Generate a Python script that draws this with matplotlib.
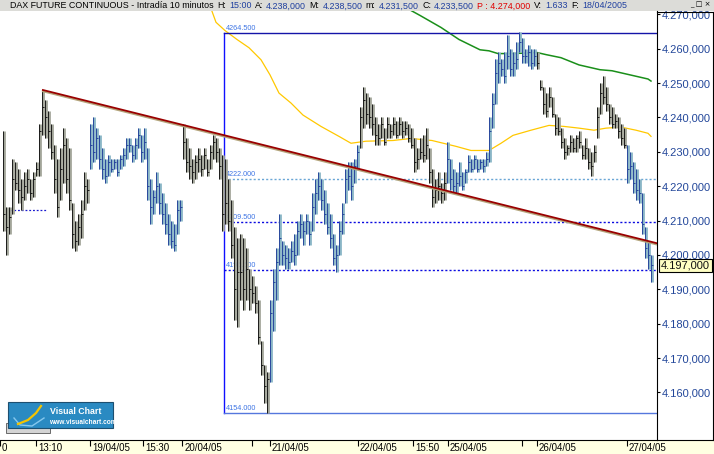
import numpy as np
import matplotlib
matplotlib.use('Agg')
import matplotlib.pyplot as plt
import matplotlib.transforms as mtransforms
from matplotlib.collections import LineCollection
from matplotlib.lines import Line2D
from matplotlib.patches import Rectangle

plt.rcParams['font.family'] = ['Liberation Sans', 'DejaVu Sans']

W, H = 714, 454

# 10 minute bars, one list per session (high / low / close)
hi_1804 = [4236, 4214, 4214, 4228, 4227, 4225, 4222, 4224, 4225, 4222, 4224, 4227, 4238, 4248, 4245,
           4242, 4238, 4232, 4228, 4231, 4237, 4234, 4231, 4215, 4210, 4212, 4216, 4224, 4222]
lo_1804 = [4207, 4200, 4206, 4212, 4219, 4215, 4213, 4216, 4218, 4216, 4217, 4223, 4223, 4235, 4234,
           4231, 4228, 4218, 4211, 4216, 4221, 4218, 4213, 4202, 4201, 4203, 4205, 4213, 4215]
cl_1804 = [4212, 4208, 4211, 4222, 4221, 4219, 4217, 4220, 4222, 4218, 4222, 4225, 4236, 4243, 4240,
           4236, 4230, 4222, 4214, 4225, 4232, 4222, 4216, 4206, 4204, 4208, 4212, 4220, 4219]

hi_1904 = [4238, 4240, 4237, 4235, 4231, 4228, 4229, 4228, 4228, 4228, 4229, 4231, 4234, 4234, 4232, 4234,
           4237, 4235, 4237, 4231, 4222, 4219, 4224, 4221, 4218, 4215, 4212, 4210, 4209, 4216, 4216]
lo_1904 = [4225, 4227, 4228, 4225, 4222, 4221, 4223, 4224, 4225, 4223, 4225, 4226, 4228, 4230, 4227, 4228,
           4231, 4227, 4228, 4216, 4209, 4212, 4215, 4212, 4209, 4206, 4203, 4202, 4201, 4206, 4210]
cl_1904 = [4232, 4230, 4234, 4228, 4225, 4223, 4227, 4225, 4227, 4224, 4228, 4229, 4232, 4232, 4229, 4232,
           4235, 4230, 4233, 4220, 4214, 4217, 4220, 4215, 4212, 4209, 4206, 4204, 4203, 4213, 4214]

hi_2004 = [4238, 4234, 4231, 4228, 4229, 4231, 4229, 4231, 4228, 4232, 4235, 4234, 4231, 4229, 4228,
           4222, 4216, 4208, 4205, 4206, 4205, 4202, 4196, 4194, 4191, 4187, 4175, 4168, 4166]
lo_2004 = [4228, 4224, 4222, 4221, 4222, 4224, 4223, 4225, 4223, 4225, 4228, 4227, 4222, 4207, 4209,
           4207, 4199, 4181, 4179, 4187, 4184, 4187, 4184, 4186, 4183, 4174, 4165, 4157, 4154]
cl_2004 = [4233, 4227, 4226, 4224, 4227, 4228, 4225, 4229, 4224, 4230, 4233, 4230, 4226, 4212, 4215,
           4210, 4203, 4190, 4195, 4195, 4190, 4196, 4190, 4189, 4186, 4176, 4168, 4162, 4164]

hi_2104 = [4187, 4196, 4202, 4212, 4204, 4203, 4202, 4204, 4206, 4210, 4212, 4210, 4212, 4210, 4218,
           4222, 4224, 4222, 4219, 4215, 4212, 4206, 4203, 4210, 4215, 4225, 4227, 4227, 4228, 4232]
lo_2104 = [4163, 4178, 4187, 4197, 4197, 4196, 4196, 4198, 4197, 4200, 4205, 4203, 4206, 4203, 4207,
           4212, 4216, 4213, 4209, 4206, 4202, 4197, 4195, 4200, 4206, 4215, 4219, 4216, 4221, 4225]
cl_2104 = [4183, 4192, 4198, 4205, 4200, 4199, 4198, 4201, 4200, 4207, 4209, 4207, 4210, 4206, 4214,
           4218, 4220, 4216, 4212, 4208, 4205, 4199, 4200, 4207, 4212, 4222, 4223, 4220, 4226, 4230]

hi_2204 = [4243, 4249, 4247, 4246, 4244, 4240, 4238, 4240, 4237, 4240, 4238, 4240, 4239, 4240, 4239,
           4239, 4238, 4237, 4234, 4231, 4234, 4235, 4237, 4231, 4225, 4222, 4224, 4221, 4224]
lo_2204 = [4231, 4237, 4238, 4237, 4235, 4232, 4232, 4234, 4232, 4234, 4234, 4235, 4234, 4235, 4234,
           4235, 4233, 4231, 4224, 4225, 4228, 4227, 4228, 4221, 4214, 4215, 4216, 4215, 4216]
cl_2204 = [4240, 4245, 4241, 4240, 4238, 4235, 4234, 4238, 4233, 4238, 4236, 4238, 4235, 4238, 4236,
           4237, 4234, 4232, 4227, 4228, 4230, 4229, 4232, 4224, 4217, 4219, 4220, 4218, 4221]

hi_2504 = [4233, 4228, 4225, 4224, 4227, 4224, 4225, 4229, 4228, 4229, 4228, 4228, 4228, 4230, 4240,
           4247, 4257, 4259, 4257, 4259, 4264, 4260, 4259, 4262, 4265, 4263, 4260, 4261, 4260, 4260]
lo_2504 = [4221, 4219, 4218, 4218, 4220, 4219, 4221, 4224, 4224, 4225, 4224, 4225, 4224, 4226, 4227,
           4237, 4244, 4250, 4252, 4250, 4254, 4252, 4252, 4254, 4259, 4256, 4256, 4255, 4254, 4255]
cl_2504 = [4228, 4222, 4220, 4221, 4223, 4220, 4224, 4227, 4225, 4228, 4225, 4227, 4226, 4228, 4236,
           4244, 4253, 4256, 4254, 4252, 4258, 4254, 4256, 4257, 4262, 4258, 4258, 4259, 4256, 4258]

hi_2604 = [4259, 4251, 4249, 4247, 4249, 4246, 4241, 4240, 4237, 4234, 4232, 4235, 4234, 4235, 4236,
           4232, 4234, 4231, 4230, 4232, 4243, 4250, 4252, 4249, 4244, 4243, 4241, 4240, 4238, 4237]
lo_2604 = [4254, 4248, 4241, 4240, 4243, 4240, 4235, 4235, 4231, 4228, 4229, 4230, 4230, 4230, 4231,
           4228, 4228, 4225, 4223, 4227, 4234, 4241, 4244, 4242, 4238, 4237, 4237, 4234, 4232, 4231]
cl_2604 = [4256, 4249, 4244, 4242, 4246, 4241, 4237, 4236, 4233, 4230, 4231, 4233, 4231, 4234, 4233,
           4229, 4231, 4227, 4226, 4230, 4240, 4247, 4246, 4244, 4240, 4238, 4239, 4236, 4234, 4232]

hi_2704 = [4232, 4230, 4227, 4225, 4222, 4218, 4208, 4204, 4200]
lo_2704 = [4221, 4222, 4218, 4216, 4215, 4206, 4199, 4196, 4192]
cl_2704 = [4225, 4226, 4221, 4219, 4218, 4209, 4202, 4200, 4197]

sessions = [(hi_1804, lo_1804, cl_1804), (hi_1904, lo_1904, cl_1904), (hi_2004, lo_2004, cl_2004),
            (hi_2104, lo_2104, cl_2104), (hi_2204, lo_2204, cl_2204), (hi_2504, lo_2504, cl_2504),
            (hi_2604, lo_2604, cl_2604), (hi_2704, lo_2704, cl_2704)]

# moving averages (bar index, value)
ma_yellow_x = [69, 71, 74, 78, 82, 86, 89, 92, 96, 100, 106, 112, 116, 121, 130, 136, 143, 151, 156, 162,
               166, 170, 176, 182, 187, 192, 197, 201, 206, 211, 215, 216]
ma_yellow_y = [4272.5, 4267.7, 4265.3, 4262.7, 4260.3, 4256.8, 4252.4, 4247.1, 4244.2, 4240.7, 4237.4,
               4234.5, 4232.5, 4233.1, 4233.3, 4233.9, 4233.3, 4231.6, 4230.4, 4230.4, 4232.5, 4234.8,
               4236.3, 4237.7, 4237.4, 4236.9, 4236.3, 4236.9, 4237.2, 4236.3, 4235.4, 4234.5]
ma_green_x = [134, 139, 146, 152, 159, 162, 165, 170, 178, 181, 186, 192, 199, 203, 209, 215, 216]
ma_green_y = [4272.1, 4269.7, 4266.2, 4262.7, 4259.7, 4259.4, 4258.6, 4258.6, 4258.9, 4258.3, 4257.4,
              4255.3, 4253.9, 4253.6, 4252.4, 4251.2, 4250.6]

# drawing tools
trend_x = [13.3, 218.0]
trend_y = [4248.0, 4203.4]
fibo_start = 73.7
fibo_levels = [4264.5, 4222.0, 4209.5, 4195.5, 4154.0]
old_level = 4213.0
old_level_x = [2.3, 14.7]

xtick_pos = [-1, 11, 29, 46.7, 59.7, 83, 89, 118.3, 136.7, 148.3, 173, 178, 208]
xtick_lab = ['0', '13:10', '19/04/05', '15:30', '20/04/05', '', '21/04/05', '22/04/05', '15:50',
             '25/04/05', '', '26/04/05', '27/04/05']

title_parts = [('DAX FUTURE CONTINUOUS - Intradía 10 minutos', 'k'), ('H:', 'k'), ('15:00', 'b'),
               ('A:', 'k'), ('4.238,000', 'b'), ('M:', 'k'), ('4.238,500', 'b'), ('m:', 'k'),
               ('4.231,500', 'b'), ('C:', 'k'), ('4.233,500', 'b'), ('P : 4.274,000', 'r'),
               ('V:', 'k'), ('1.633', 'b'), ('F:', 'k'), ('18/04/2005', 'b')]


def es_num(v):
    s = f'{v:,.3f}'
    return s.replace(',', '#').replace('.', ',').replace('#', '.')


def fx(px):
    return px / W


def fy(py):
    return 1 - py / H


fig = plt.figure(figsize=(W / 100, H / 100), dpi=100)
fig.patches.append(Rectangle((0, fy(11)), 1, 1 - fy(11), transform=fig.transFigure,
                             facecolor='#dcdcd8', edgecolor='none', zorder=-2))
fig.patches.append(Rectangle((0, 0), 1, fy(440), transform=fig.transFigure,
                             facecolor='#ffffe2', edgecolor='none', zorder=-2))

ax = fig.add_axes([0, fy(440), fx(657), fy(11) - fy(440)])
ax.set_xlim(-1, 218)
ax.set_ylim(4146.14, 4270.99)

# bars
light_segs, dark_segs, light_cols, dark_cols = [], [], [], []
i = 0
for d, (hh, ll, cc) in enumerate(sessions):
    blue_day = d % 2 == 1
    for h, l, c in zip(hh, ll, cc):
        light_segs.append([(i + 0.35, l), (i + 0.35, h)])
        light_cols.append('#8ab6c6' if blue_day else '#a3a69a')
        dark_segs.append([(i, l), (i, h)])
        dark_segs.append([(i, c), (i + 0.5, c)])
        col = '#22409a' if blue_day else '#111111'
        dark_cols += [col, col]
        i += 1
last_close = sessions[-1][2][-1]

ax.add_collection(LineCollection(light_segs, colors=light_cols, linewidths=2.0, zorder=3))
ax.add_collection(LineCollection(dark_segs, colors=dark_cols, linewidths=0.65, zorder=4))

# moving averages
ax.plot(ma_yellow_x, ma_yellow_y, color='#ffc800', lw=0.9, zorder=2)
ax.plot(ma_green_x, ma_green_y, color='#1a8f1a', lw=1.1, zorder=2)

# trend line
shade = ax.transData + mtransforms.ScaledTranslation(0, -1.3 / 100, fig.dpi_scale_trans)
ax.plot(trend_x, trend_y, color='#b3a57c', lw=1.4, transform=shade, zorder=5)
ax.plot(trend_x, trend_y, color='#9a0000', lw=1.3, zorder=6)

# fibonacci style levels
ax.plot([fibo_start, fibo_start], [fibo_levels[-1], fibo_levels[0]], color='#1010ff', lw=1.0, zorder=2)
lvl_style = {4264.5: ('#1414a8', '-'), 4222.0: ('#6aa6d6', (0, (1.5, 1.5))),
             4209.5: ('#0a0ae0', (0, (1.5, 1.5))), 4195.5: ('#0a0ae0', (0, (1.5, 1.5))),
             4154.0: ('#5577dd', '-')}
up = ax.transData + mtransforms.ScaledTranslation(0, 1.0 / 100, fig.dpi_scale_trans)
for lv in fibo_levels:
    col, ls = lvl_style[lv]
    ax.plot([fibo_start, 218], [lv, lv], color=col, lw=1.0, ls=ls, zorder=2)
    ax.text(fibo_start + 0.6, lv, f'{lv:.3f}', fontsize=5.2, color='#3d74e4',
            ha='left', va='bottom', transform=up, zorder=1)
ax.plot(old_level_x, [old_level, old_level], color='#1a1ad0', lw=0.9, ls=(0, (1.5, 1.5)), zorder=2)

# axes styling
for side in ['top', 'left']:
    ax.spines[side].set_visible(False)
ax.spines['right'].set_linewidth(0.8)
ax.spines['bottom'].set_linewidth(0.8)
ax.yaxis.tick_right()
yt = np.arange(4160, 4271, 10)
ax.set_yticks(yt, [es_num(v) for v in yt])
ax.tick_params(axis='y', direction='out', length=2.5, width=0.8, pad=1, labelsize=8,
               labelcolor='#23479a')
ax.set_xticks(xtick_pos, [''] * len(xtick_pos))
ax.tick_params(axis='x', direction='out', length=4, width=0.8)
bx = mtransforms.blended_transform_factory(ax.transData, fig.transFigure)
lab_off = mtransforms.ScaledTranslation(2 / 100, 0, fig.dpi_scale_trans)
for p, lab in zip(xtick_pos, xtick_lab):
    ax.text(p, fy(448), lab, transform=bx + lab_off, fontsize=7, ha='left', va='center',
            clip_on=False)

# last price box
bt = mtransforms.blended_transform_factory(ax.transAxes, ax.transData)
ax.text(1.006, last_close, es_num(last_close), transform=bt, ha='left', va='center', fontsize=8,
        color='#111111', clip_on=False,
        bbox=dict(boxstyle='square,pad=0.15', fc='#ffffc4', ec='black', lw=0.8))

# right panel frame
fig.add_artist(Line2D([fx(657), fx(713)], [fy(12), fy(12)], color='black', lw=0.8))
fig.add_artist(Line2D([fx(713), fx(713)], [fy(12), fy(440)], color='black', lw=0.8))
fig.add_artist(Line2D([fx(657), fx(714)], [fy(440), fy(440)], color='black', lw=0.8))
fig.text(fx(690), fy(5), '_ □ ×', fontsize=5, ha='left', va='center', family='DejaVu Sans')

# title bar
cols = {'k': '#000000', 'b': '#1f3f9f', 'r': '#e00000'}
renderer = fig.canvas.get_renderer()
xpos = 10
for txt, c in title_parts:
    t = fig.text(fx(xpos), fy(6), txt, color=cols[c], fontsize=6.4, ha='left', va='center')
    xpos += t.get_window_extent(renderer).width + 3.2

# logo
fig.patches.append(Rectangle((fx(6), fy(433)), fx(44), 10 / H, transform=fig.transFigure,
                             facecolor='#d4d4d4', edgecolor='#555555', lw=0.6, zorder=5))
fig.patches.append(Rectangle((fx(8), fy(428)), fx(105), 26 / H, transform=fig.transFigure,
                             facecolor='#2a8ac2', edgecolor='#1d4f70', lw=0.8, zorder=6))
fig.add_artist(Line2D([fx(14), fx(20), fx(32), fx(44)], [fy(418), fy(425), fy(426), fy(418)],
                      color='#86c8ee', lw=1.0, zorder=7))
fig.add_artist(Line2D([fx(18), fx(28), fx(36), fx(41)], [fy(424), fy(420), fy(413), fy(406)],
                      color='#f5c400', lw=1.6, zorder=7))
fig.text(fx(50), fy(411), 'Visual Chart', color='white', fontsize=6.3, weight='bold',
         ha='left', va='center', zorder=8)
fig.text(fx(49), fy(423), 'www.visualchart.com', color='white', fontsize=4.8, weight='bold',
         ha='left', va='center', zorder=8)

fig.savefig('out.png', dpi=100)
